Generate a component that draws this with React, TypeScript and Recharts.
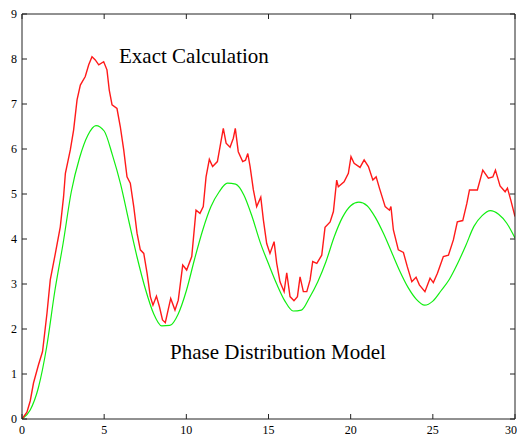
import { LineChart, Line, XAxis, YAxis } from "recharts";

// x ticks / y ticks
const xTicks = [0, 5, 10, 15, 20, 25, 30];
const yTicks = [0, 1, 2, 3, 4, 5, 6, 7, 8, 9];

// Phase Distribution Model, sampled every 0.5
const modelX = [
  0, 0.5, 1, 1.5, 2, 2.5, 3, 3.5, 4, 4.5, 5, 5.5, 6, 6.5, 7, 7.5, 8, 8.5, 9, 9.5,
  10, 10.5, 11, 11.5, 12, 12.5, 13, 13.5, 14, 14.5, 15, 15.5, 16, 16.5, 17, 17.5, 18, 18.5, 19, 19.5,
  20, 20.5, 21, 21.5, 22, 22.5, 23, 23.5, 24, 24.5, 25, 25.5, 26, 26.5, 27, 27.5, 28, 28.5, 29, 29.5, 30,
];
const modelY = [
  0, 0.2, 0.7, 1.6, 2.85, 3.9, 5.05, 5.8, 6.3, 6.52, 6.4, 5.87, 5.22, 4.4, 3.6, 2.9, 2.35, 2.07, 2.08, 2.33,
  2.85, 3.55, 4.2, 4.72, 5.05, 5.24, 5.22, 4.98, 4.5, 3.92, 3.45, 3.0, 2.62, 2.4, 2.42, 2.7, 3.05, 3.5, 4.05, 4.48,
  4.74, 4.82, 4.74, 4.48, 4.12, 3.7, 3.28, 2.92, 2.66, 2.53, 2.62, 2.85, 3.1, 3.45, 3.85, 4.28, 4.52, 4.63, 4.55, 4.35, 4.02,
];

// Exact Calculation, read point by point
const exactX = [
  0, 0.3, 0.5, 0.7, 1.0, 1.25, 1.52, 1.72, 2.03, 2.33, 2.53, 2.64, 2.94, 3.14, 3.35, 3.55, 3.85, 4.06, 4.26, 4.46,
  4.67, 4.97, 5.17, 5.31, 5.48, 5.78, 5.98, 6.19, 6.39, 6.59, 6.8, 7.0, 7.2, 7.41, 7.61, 7.81, 7.97, 8.18, 8.36, 8.55,
  8.72, 8.89, 9.05, 9.31, 9.51, 9.78, 10.02, 10.33, 10.59, 10.83, 11.03, 11.2, 11.4, 11.6, 11.89, 12.09, 12.25, 12.42, 12.66, 12.86,
  12.98, 13.16, 13.43, 13.6, 13.74, 13.88, 14.08, 14.28, 14.53, 14.69, 14.89, 15.09, 15.34, 15.5, 15.7, 15.95, 16.11, 16.31, 16.55, 16.76,
  16.92, 17.12, 17.33, 17.53, 17.69, 17.94, 18.24, 18.44, 18.75, 18.95, 19.15, 19.25, 19.6, 19.86, 20.02, 20.21, 20.57, 20.82, 21.08, 21.35,
  21.55, 21.75, 22.1, 22.36, 22.45, 22.6, 22.9, 23.21, 23.45, 23.72, 23.98, 24.18, 24.52, 24.83, 25.03, 25.28, 25.64, 25.95, 26.25, 26.49,
  26.82, 27.07, 27.23, 27.71, 28.04, 28.38, 28.65, 28.81, 29.09, 29.4, 29.54, 29.74, 30,
];
const exactY = [
  0, 0.15, 0.4, 0.8, 1.2, 1.5, 2.35, 3.09, 3.68, 4.27, 4.94, 5.46, 5.98, 6.42, 7.09, 7.42, 7.61, 7.87, 8.05, 7.98,
  7.87, 7.94, 7.76, 7.31, 6.98, 6.9, 6.5, 5.98, 5.38, 5.24, 4.72, 4.13, 3.76, 3.68, 3.24, 2.72, 2.53, 2.73, 2.5, 2.2,
  2.14, 2.42, 2.68, 2.42, 2.64, 3.42, 3.31, 3.61, 4.64, 4.57, 4.72, 5.38, 5.77, 5.61, 5.72, 6.13, 6.46, 6.13, 6.04, 6.24,
  6.46, 5.94, 5.72, 5.75, 5.9, 5.61, 5.09, 4.72, 4.93, 4.42, 3.9, 3.68, 3.94, 3.46, 3.05, 2.83, 3.25, 2.72, 2.63, 2.72,
  3.16, 2.83, 2.83, 3.09, 3.5, 3.46, 3.64, 4.26, 4.38, 4.61, 5.31, 5.16, 5.27, 5.46, 5.83, 5.68, 5.59, 5.76, 5.61, 5.31,
  5.38, 5.13, 4.72, 4.64, 4.72, 4.2, 3.76, 3.7, 3.38, 3.05, 3.15, 2.98, 2.83, 3.13, 3.03, 3.24, 3.61, 3.64, 3.98, 4.38,
  4.41, 4.79, 5.09, 5.09, 5.53, 5.35, 5.38, 5.53, 5.18, 5.05, 5.13, 4.87, 4.5,
];

const modelData = modelX.map((x, i) => ({ x, y: modelY[i] }));
const exactData = exactX.map((x, i) => ({ x, y: exactY[i] }));

const serif = "Liberation Serif";
const axisColor = "#222";

export default function App() {
  return (
    <div style={{ position: "absolute", left: 0, top: 0, width: 517, height: 441, background: "#fff", fontFamily: serif }}>
      <LineChart width={517} height={441} margin={{ top: 13, right: 1, bottom: 0, left: 0 }}>
        <XAxis
          dataKey="x"
          type="number"
          domain={[0, 30]}
          ticks={xTicks}
          height={22}
          tickSize={-5}
          tickMargin={11}
          stroke={axisColor}
          fontSize={12}
          fontFamily={serif}
          tick={{ fill: "#000" }}
          allowDataOverflow
        />
        <XAxis
          xAxisId="top"
          dataKey="x"
          orientation="top"
          type="number"
          domain={[0, 30]}
          ticks={xTicks}
          height={1}
          tickSize={-5}
          stroke={axisColor}
          tickFormatter={() => ""}
          allowDataOverflow
        />
        <YAxis
          type="number"
          domain={[0, 9]}
          ticks={yTicks}
          width={22}
          tickSize={-5}
          tickMargin={10}
          stroke={axisColor}
          fontSize={12}
          fontFamily={serif}
          tick={{ fill: "#000" }}
          allowDataOverflow
        />
        <YAxis
          yAxisId="right"
          orientation="right"
          type="number"
          domain={[0, 9]}
          ticks={yTicks}
          width={1}
          tickSize={-5}
          stroke={axisColor}
          tickFormatter={() => ""}
          allowDataOverflow
        />
        <Line
          data={modelData}
          dataKey="y"
          type="monotone"
          stroke="#11ee11"
          strokeWidth={1.2}
          dot={false}
          isAnimationActive={false}
        />
        <Line
          data={exactData}
          dataKey="y"
          type="linear"
          stroke="#ff1a1a"
          strokeWidth={1.4}
          dot={false}
          isAnimationActive={false}
        />
        {/* invisible series so the top/right frame axes get drawn */}
        <Line
          data={exactData}
          xAxisId="top"
          yAxisId="right"
          dataKey="y"
          stroke="none"
          dot={false}
          activeDot={false}
          isAnimationActive={false}
        />
      </LineChart>
      <svg width={517} height={441} style={{ position: "absolute", left: 0, top: 0, pointerEvents: "none" }}>
        <text x={119} y={63} fontFamily={serif} fontSize={21} fill="#000">
          Exact Calculation
        </text>
        <text x={170} y={359} fontFamily={serif} fontSize={21} fill="#000">
          Phase Distribution Model
        </text>
      </svg>
    </div>
  );
}
